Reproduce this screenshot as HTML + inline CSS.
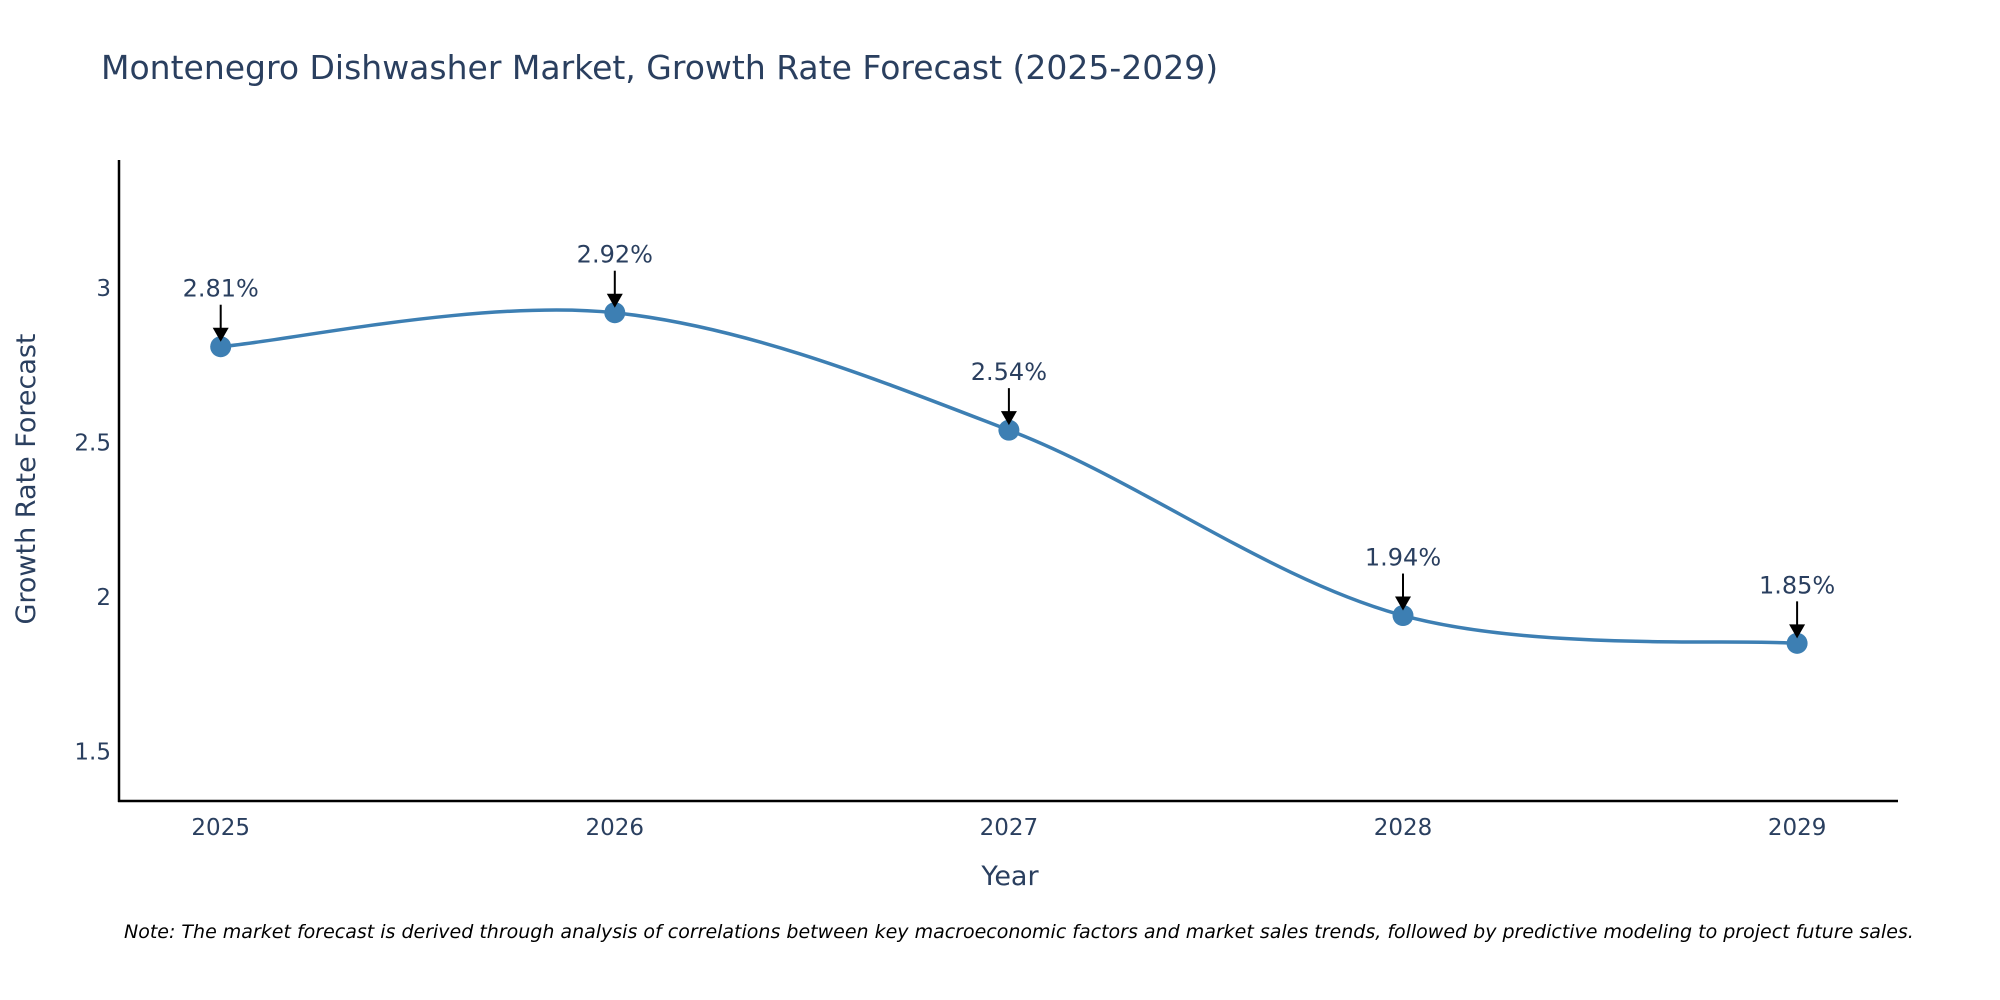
<!DOCTYPE html>
<html><head><meta charset="utf-8"><style>
html,body{margin:0;padding:0;background:#fff;}
svg{display:block;font-family:"DejaVu Sans","Liberation Sans",sans-serif;}
</style></head><body>
<svg id="chart" width="2000" height="1000" viewBox="0 0 2000 1000">
<text x="101" y="79" font-size="33" fill="#2a3f5f">Montenegro Dishwasher Market, Growth Rate Forecast (2025-2029)</text>
<g id="yticks"></g>
<g id="xticks"></g>
<line x1="119" y1="160" x2="119" y2="802" stroke="#000" stroke-width="2.5"/>
<line x1="118" y1="801" x2="1898" y2="801" stroke="#000" stroke-width="2.5"/>
<path id="line" fill="none" stroke="#3d7fb3" stroke-width="3.5"/>
<g id="points"></g>
<g id="annots"></g>
<text x="1010" y="885" font-size="27" fill="#2a3f5f" text-anchor="middle">Year</text>
<text transform="translate(35,479) rotate(-90)" font-size="27" fill="#2a3f5f" text-anchor="middle">Growth Rate Forecast</text>
<text x="124" y="938" font-size="19" font-style="italic" fill="#000">Note: The market forecast is derived through analysis of correlations between key macroeconomic factors and market sales trends, followed by predictive modeling to project future sales.</text>
</svg>
<script>
const years = [2025, 2026, 2027, 2028, 2029];
const values = [2.81, 2.92, 2.54, 1.94, 1.85];
const labels = ["2.81%", "2.92%", "2.54%", "1.94%", "1.85%"];
const yTicks = [1.5, 2, 2.5, 3];
const ns = "http://www.w3.org/2000/svg";
const xs = y => 220.7 + (y - 2025) * 394.1;
const ys = v => 288 - (v - 3) * 309;
function mk(tag, attrs, parent, txt){const e=document.createElementNS(ns,tag);for(const k in attrs)e.setAttribute(k,attrs[k]);if(txt!==undefined)e.textContent=txt;parent.appendChild(e);return e;}
const yt=document.getElementById('yticks'), xt=document.getElementById('xticks');
yTicks.forEach(t=>{const e=mk('text',{x:111,y:ys(t)+8,'font-size':23,fill:'#2a3f5f','text-anchor':'end'},yt,String(t));

});
years.forEach(y=>{const e=mk('text',{x:xs(y),y:835,'font-size':23,fill:'#2a3f5f','text-anchor':'middle'},xt,String(y));

});
const P=years.map((y,i)=>[xs(y),ys(values[i])]);
let d=`M${P[0][0]},${P[0][1]}`;
const s=0.5/3*2;
for(let i=0;i<P.length-1;i++){const p0=P[Math.max(0,i-1)],p1=P[i],p2=P[i+1],p3=P[Math.min(P.length-1,i+2)];
const c1=[p1[0]+(p2[0]-p0[0])*s/2,p1[1]+(p2[1]-p0[1])*s/2],c2=[p2[0]-(p3[0]-p1[0])*s/2,p2[1]-(p3[1]-p1[1])*s/2];
d+=` C${c1[0]},${c1[1]} ${c2[0]},${c2[1]} ${p2[0]},${p2[1]}`;}
document.getElementById('line').setAttribute('d',d);
const pts=document.getElementById('points'), an=document.getElementById('annots');
P.forEach((p,i)=>{const c=mk('circle',{cx:p[0],cy:p[1],r:10.5,fill:'#3d7fb3'},pts);


const l=mk('line',{x1:p[0],y1:p[1]-42,x2:p[0],y2:p[1]-14,stroke:'#000','stroke-width':2},an);


const h=mk('polygon',{points:`${p[0]-8},${p[1]-19} ${p[0]+8},${p[1]-19} ${p[0]},${p[1]-5}`,fill:'#000'},an);


const t=mk('text',{x:p[0],y:p[1]-50,'font-size':24,fill:'#2a3f5f','text-anchor':'middle'},an,labels[i]);

});
</script>
</body></html>
